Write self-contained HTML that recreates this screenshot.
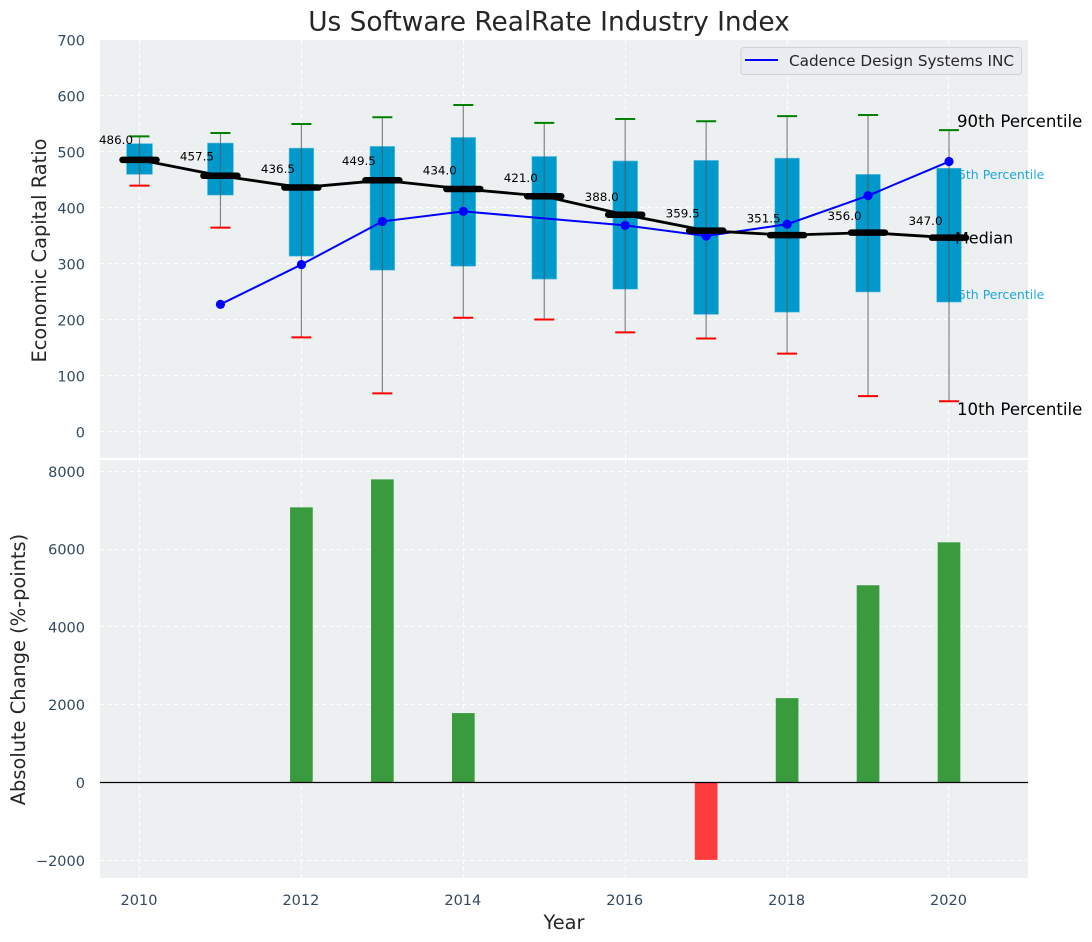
<!DOCTYPE html>
<html lang="en">
<head>
<meta charset="utf-8">
<title>Us Software RealRate Industry Index</title>
<style>
html,body{margin:0;padding:0;background:#fff;width:1092px;height:942px;overflow:hidden}
svg{display:block;font-family:"DejaVu Sans","Liberation Sans",sans-serif}
</style>
</head>
<body>
<svg id="chart" xmlns="http://www.w3.org/2000/svg" width="1092" height="942" viewBox="0 0 1092 942">
  <rect x="100" y="40" width="928" height="418" fill="#ecf0f1"/>
  <rect x="100" y="460" width="928" height="418" fill="#ecf0f1"/>
  <g id="grid"></g>
  <g id="notes"></g>
  <g id="marks"></g>
  <g id="notesTop"></g>
  <g id="bars"></g>
  <g id="ticks" fill="#34495e" font-size="14.5"></g>
  <text x="549" y="30.5" text-anchor="middle" font-size="26.4" fill="#262626">Us Software RealRate Industry Index</text>
  <text transform="translate(46,250.5) rotate(-90)" text-anchor="middle" font-size="19.4" fill="#262626">Economic Capital Ratio</text>
  <text transform="translate(25,669.5) rotate(-90)" text-anchor="middle" font-size="19.4" fill="#262626">Absolute Change (%-points)</text>
  <text x="564" y="929" text-anchor="middle" font-size="19.4" fill="#262626">Year</text>
  <g>
    <rect x="741" y="47.5" width="280.5" height="27" rx="3" fill="#eaecf1" stroke="#cfd1d4" stroke-width="1"/>
    <line x1="745" x2="778" y1="60" y2="60" stroke="#0000ff" stroke-width="2"/>
    <text x="789" y="66" font-size="15.25" fill="#262626">Cadence Design Systems INC</text>
  </g>
</svg>
<script>
const years = [2010, 2011, 2012, 2013, 2014, 2015, 2016, 2017, 2018, 2019, 2020];
const p90 = [528, 534, 550, 562, 584, 552, 559, 555, 564, 566, 539];
const p75 = [515, 516, 507, 510, 526, 492, 484, 485, 489, 460, 471];
const medians = [486.0, 457.5, 436.5, 449.5, 434.0, 421.0, 388.0, 359.5, 351.5, 356.0, 347.0];
const p25 = [460, 423, 314, 289, 296, 273, 255, 210, 214, 250, 232];
const p10 = [440, 365, 169, 69, 204, 201, 178, 167, 140, 64, 55];
const cadence = [null, 228, 299, 376, 394, null, 369, 350, 371, 422, 483];
const changes = [null, null, 7075, 7794, 1785, null, null, -1990, 2170, 5072, 6176];
const topTicks = [0, 100, 200, 300, 400, 500, 600, 700];
const bottomTicks = [-2000, 0, 2000, 4000, 6000, 8000];
const xTicks = [2010, 2012, 2014, 2016, 2018, 2020];

const NS = 'http://www.w3.org/2000/svg';
const xScale = v => 139.5 + (v - 2010) * 80.95;
const yTop = v => 432 - v * 0.56;
const yBottom = v => 782.5 - v * 0.03889;
const snap = p => Math.floor(p - 0.01) + 0.5;

function make(tag, parent, attrs) {
  const node = document.createElementNS(NS, tag);
  for (const k in attrs) node.setAttribute(k, attrs[k]);
  parent.appendChild(node);
  return node;
}
const grid = document.getElementById('grid');
const notes = document.getElementById('notes');
const notesTop = document.getElementById('notesTop');
const marks = document.getElementById('marks');
const bars = document.getElementById('bars');
const ticks = document.getElementById('ticks');
const gridStyle = {stroke: '#ffffff', 'stroke-width': 1.1, 'stroke-dasharray': '4 3.4', 'stroke-opacity': 0.95};

topTicks.forEach(t => {
  const g = make('line', grid, {x1: 100, x2: 1028, y1: snap(yTop(t)), y2: snap(yTop(t)), ...gridStyle});
  
  
  const l = make('text', ticks, {x: 85, y: yTop(t) + 5.5, 'text-anchor': 'end'});
  l.textContent = t;
  
  
});
bottomTicks.forEach(t => {
  const g = make('line', grid, {x1: 100, x2: 1028, y1: snap(yBottom(t)), y2: snap(yBottom(t)), ...gridStyle});
  
  
  const l = make('text', ticks, {x: 85, y: yBottom(t) + 5.5, 'text-anchor': 'end'});
  l.textContent = String(t).replace('-', '\u2212');
  
  
});
xTicks.forEach(t => {
  const a = make('line', grid, {x1: snap(xScale(t)), x2: snap(xScale(t)), y1: 40, y2: 458, ...gridStyle});
  
  
  const b = make('line', grid, {x1: snap(xScale(t)), x2: snap(xScale(t)), y1: 460, y2: 878, ...gridStyle});
  
  
  const l = make('text', ticks, {x: xScale(t) - 0.5, y: 905, 'text-anchor': 'middle'});
  l.textContent = t;
  
  
});

/* Annotations for the last year: the inner percentiles sit under the boxes */
const last = years.length - 1;
const noteX = xScale(years[last]) + 8;
const n75 = make('text', notes, {x: noteX - 7, y: yTop(p75[last]) + 11, 'font-size': 12.5, fill: '#0099cc', 'fill-opacity': 0.85});
n75.textContent = '75th Percentile';


const n25 = make('text', notes, {x: noteX - 7, y: yTop(p25[last]) - 3, 'font-size': 12.5, fill: '#0099cc', 'fill-opacity': 0.85});
n25.textContent = '25th Percentile';


const n90 = make('text', notes, {x: noteX, y: yTop(p90[last]) - 3, 'font-size': 16.6, fill: '#000'});
n90.textContent = '90th Percentile';


const n10 = make('text', notes, {x: noteX, y: yTop(p10[last]) + 14, 'font-size': 16.6, fill: '#000'});
n10.textContent = '10th Percentile';


const nMed = make('text', notesTop, {x: noteX - 2, y: yTop(medians[last]) + 6, 'font-size': 16, fill: '#000'});
nMed.textContent = 'Median';



/* Boxes */
years.forEach((yr, i) => {
  const w = (yr < 2012 ? 0.32 : 0.305) * 80.95;
  const box = make('rect', marks, {x: xScale(yr) - w / 2, y: yTop(p75[i]), width: w, height: yTop(p25[i]) - yTop(p75[i]), fill: '#0099cc', stroke: '#66c2e0', 'stroke-width': 0.6});
  
  
});
/* Whiskers and caps */
years.forEach((yr, i) => {
  const x = xScale(yr);
  const wh = make('line', marks, {x1: x, x2: x, y1: yTop(p90[i]), y2: yTop(p10[i]), stroke: '#555555', 'stroke-opacity': 0.7, 'stroke-width': 1.2});
  
  
  const hi = make('line', marks, {x1: x - 10, x2: x + 10, y1: yTop(p90[i]), y2: yTop(p90[i]), stroke: '#008000', 'stroke-width': 2});
  
  
  const lo = make('line', marks, {x1: x - 10, x2: x + 10, y1: yTop(p10[i]), y2: yTop(p10[i]), stroke: '#ff0000', 'stroke-width': 2});
  
  
});
/* Cadence line */
const cadPts = years.map((yr, i) => [yr, cadence[i]]).filter(p => p[1] !== null);
const cadLine = make('polyline', marks, {points: cadPts.map(p => xScale(p[0]) + ',' + yTop(p[1])).join(' '), fill: 'none', stroke: '#0000ff', 'stroke-width': 2});


cadPts.forEach(p => {
  const dot = make('circle', marks, {cx: xScale(p[0]), cy: yTop(p[1]), r: 4.6, fill: '#0000ff'});
  
  
});
/* Median line, markers and value labels */
const medLine = make('polyline', marks, {points: years.map((yr, i) => xScale(yr) + ',' + yTop(medians[i])).join(' '), fill: 'none', stroke: '#000', 'stroke-width': 2.8});


years.forEach((yr, i) => {
  const x = xScale(yr), y = yTop(medians[i]);
  const m = make('line', marks, {x1: x - 17, x2: x + 17, y1: y, y2: y, stroke: '#000', 'stroke-width': 6.5, 'stroke-linecap': 'round'});
  
  
  const t = make('text', marks, {x: x - 23.5, y: yTop(medians[i] * 1.042) - 4.5, 'text-anchor': 'middle', 'font-size': 11.9, fill: '#000'});
  t.textContent = medians[i].toFixed(1);
  
  
});
/* Change bars */
years.forEach((yr, i) => {
  if (changes[i] === null) return;
  const w = 0.28 * 80.95, v = changes[i];
  const top = Math.min(yBottom(v), yBottom(0));
  const b = make('rect', bars, {x: xScale(yr) - w / 2, y: top, width: w, height: Math.abs(yBottom(v) - yBottom(0)), fill: v >= 0 ? '#3a9b3e' : '#ff3c3c'});
  
  
});
const zero = make('line', bars, {x1: 100, x2: 1028, y1: yBottom(0), y2: yBottom(0), stroke: '#000', 'stroke-width': 1.2});


</script>
</body>
</html>
